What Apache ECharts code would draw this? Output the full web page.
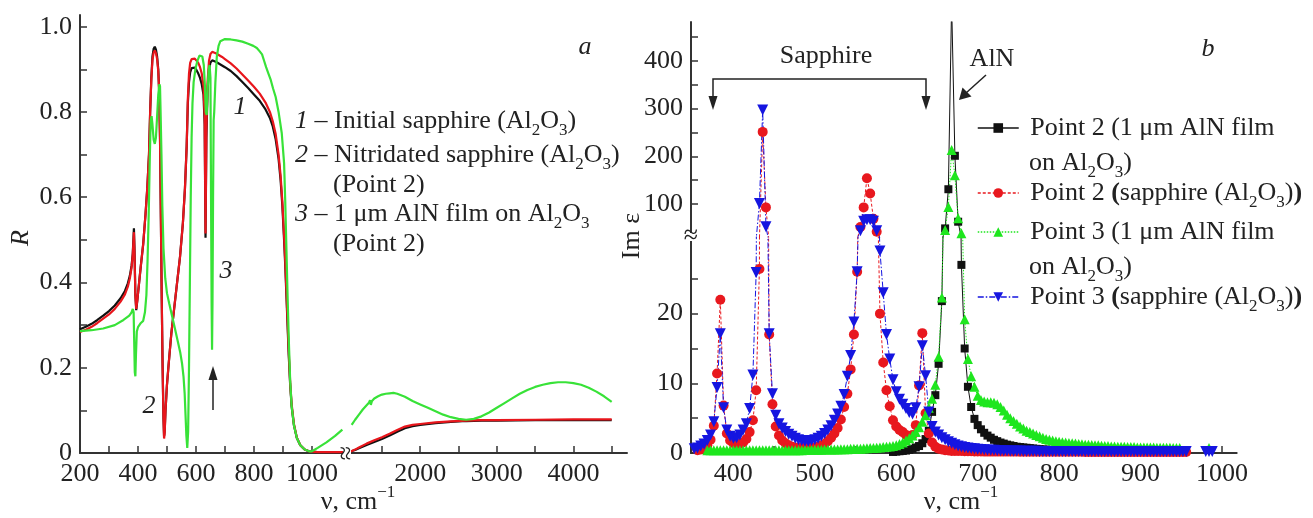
<!DOCTYPE html>
<html>
<head>
<meta charset="utf-8">
<script src="https://cdn.jsdelivr.net/npm/echarts@6.0.0/dist/echarts.min.js"></script>
<style>
  html, body { margin: 0; padding: 0; background: #fff; }
  #chart { width: 1313px; height: 518px; }
</style>
</head>
<body>
<div id="chart"></div>
<script>
// ---------- panel a: reflectance R(nu) ----------
// wavenumber samples, 200..1120 cm-1 part of the axis
const nuSapLo = [
  200, 220, 240, 260, 280, 300, 320, 340, 355, 365,
  372, 378, 382, 386, 388, 391, 394, 398, 404, 410,
  418, 426, 432, 438, 442, 446, 450, 454, 458, 462,
  466, 470, 473, 476, 479, 482, 485, 488, 490, 492,
  495, 500, 506, 515, 525, 535, 545, 555, 562, 568,
  572, 576, 580, 585, 590, 596, 602, 608, 614, 620,
  626, 630, 633, 636, 640, 645, 650, 656, 662, 670,
  680, 690, 700, 720, 740, 760, 780, 800, 820, 840,
  855, 865, 875, 885, 892, 898, 904, 908, 912, 916,
  920, 925, 930, 938, 948, 960, 975, 990, 1000, 1020,
  1050, 1080, 1120
];
// 1 - initial sapphire
const rInitialLo = [
  0.290, 0.296, 0.303, 0.312, 0.322, 0.333, 0.346, 0.363, 0.380, 0.398,
  0.416, 0.440, 0.468, 0.527, 0.480, 0.370, 0.335, 0.360, 0.400, 0.440,
  0.490, 0.560, 0.620, 0.700, 0.800, 0.880, 0.930, 0.948, 0.953, 0.946,
  0.930, 0.900, 0.850, 0.740, 0.550, 0.360, 0.200, 0.080, 0.040, 0.050,
  0.100, 0.160, 0.210, 0.280, 0.340, 0.400, 0.460, 0.540, 0.620, 0.720,
  0.820, 0.870, 0.893, 0.903, 0.906, 0.904, 0.898, 0.890, 0.880, 0.865,
  0.840, 0.770, 0.505, 0.740, 0.850, 0.900, 0.916, 0.921, 0.920, 0.917,
  0.913, 0.909, 0.905, 0.896, 0.884, 0.870, 0.856, 0.841, 0.826, 0.806,
  0.786, 0.766, 0.736, 0.690, 0.640, 0.580, 0.500, 0.440, 0.370, 0.300,
  0.230, 0.160, 0.110, 0.065, 0.035, 0.018, 0.008, 0.004, 0.003, 0.002,
  0.002, 0.002, 0.002
];
// 2 - nitridated sapphire
const rNitridLo = [
  0.284, 0.289, 0.296, 0.305, 0.315, 0.325, 0.338, 0.355, 0.372, 0.390,
  0.410, 0.435, 0.465, 0.518, 0.470, 0.370, 0.338, 0.360, 0.400, 0.440,
  0.490, 0.560, 0.620, 0.700, 0.800, 0.875, 0.922, 0.939, 0.944, 0.938,
  0.924, 0.895, 0.850, 0.740, 0.550, 0.360, 0.200, 0.080, 0.034, 0.045,
  0.100, 0.160, 0.210, 0.280, 0.340, 0.400, 0.460, 0.540, 0.620, 0.720,
  0.830, 0.890, 0.915, 0.924, 0.926, 0.925, 0.921, 0.915, 0.905, 0.890,
  0.860, 0.790, 0.515, 0.760, 0.870, 0.920, 0.936, 0.941, 0.940, 0.937,
  0.933, 0.929, 0.924, 0.914, 0.902, 0.888, 0.874, 0.859, 0.843, 0.822,
  0.800, 0.778, 0.748, 0.700, 0.650, 0.590, 0.510, 0.450, 0.380, 0.310,
  0.240, 0.165, 0.115, 0.068, 0.036, 0.018, 0.008, 0.004, 0.003, 0.002,
  0.002, 0.002, 0.002
];
const nuFilmLo = [
  200, 240, 280, 320, 350, 370, 378, 382, 385, 387,
  389, 391, 393, 396, 400, 410, 418, 424, 429, 433,
  437, 441, 444, 447, 450, 454, 458, 462, 466, 470,
  474, 476, 478, 481, 484, 488, 494, 500, 508, 518,
  528, 538, 546, 552, 557, 561, 564, 567, 570, 573,
  576, 579, 582, 585, 588, 592, 598, 605, 612, 617,
  622, 627, 631, 634, 637, 640, 644, 647, 650, 652,
  654, 655.5, 657, 659, 661, 663, 665, 667, 672, 678,
  684, 690, 700, 720, 740, 760, 780, 798, 810, 820,
  828, 835, 842, 850, 858, 866, 875, 885, 896, 904,
  908, 912, 916, 920, 925, 930, 938, 948, 960, 975,
  990, 1000, 1020, 1050, 1080, 1105
];
// 3 - 1 um AlN film on Al2O3
const rFilmLo = [
  0.286, 0.288, 0.292, 0.300, 0.312, 0.322, 0.330, 0.338, 0.330, 0.260,
  0.190, 0.180, 0.230, 0.285, 0.295, 0.305, 0.310, 0.330, 0.370, 0.450,
  0.560, 0.700, 0.780, 0.790, 0.770, 0.735, 0.725, 0.740, 0.790, 0.840,
  0.865, 0.860, 0.800, 0.700, 0.580, 0.480, 0.410, 0.375, 0.350, 0.320,
  0.290, 0.260, 0.235, 0.210, 0.180, 0.140, 0.090, 0.040, 0.012, 0.050,
  0.200, 0.400, 0.600, 0.740, 0.820, 0.870, 0.900, 0.920, 0.932, 0.935,
  0.930, 0.910, 0.860, 0.800, 0.793, 0.850, 0.900, 0.910, 0.880, 0.600,
  0.350, 0.242, 0.350, 0.600, 0.780, 0.800, 0.800, 0.870, 0.930, 0.955,
  0.966, 0.970, 0.971, 0.970, 0.968, 0.965, 0.960, 0.955, 0.950, 0.942,
  0.935, 0.920, 0.905, 0.890, 0.875, 0.855, 0.835, 0.800, 0.750, 0.680,
  0.590, 0.480, 0.370, 0.270, 0.170, 0.110, 0.065, 0.035, 0.018, 0.008,
  0.004, 0.004, 0.012, 0.025, 0.040, 0.055
];
// 1040..4700 cm-1 part of the axis
const nuSapHi = [1060, 1100, 1150, 1200, 1300, 1400, 1500, 1600, 1700, 1800,
  1900, 2000, 2200, 2400, 2600, 2800, 3000, 3500, 4000, 4500];
const rInitialHi = [0.002, 0.004, 0.007, 0.011, 0.019, 0.026, 0.033, 0.041, 0.050, 0.058,
  0.063, 0.066, 0.070, 0.073, 0.075, 0.076, 0.076, 0.077, 0.077, 0.077];
const rNitridHi = [0.002, 0.004, 0.008, 0.013, 0.022, 0.030, 0.037, 0.045, 0.054, 0.062,
  0.066, 0.068, 0.072, 0.074, 0.076, 0.077, 0.077, 0.078, 0.079, 0.079];
const nuFilmHi = [
  1105, 1150, 1200, 1250, 1300, 1330, 1345, 1355, 1370, 1400,
  1450, 1500, 1550, 1600, 1650, 1700, 1800, 1900, 2000, 2100,
  2200, 2300, 2400, 2500, 2600, 2700, 2800, 2900, 3000, 3100,
  3200, 3300, 3400, 3500, 3600, 3700, 3800, 3900, 4000, 4100,
  4200, 4300, 4400, 4500
];
const rFilmHi = [
  0.066, 0.078, 0.090, 0.102, 0.112, 0.118, 0.124, 0.113, 0.122, 0.128,
  0.133, 0.137, 0.139, 0.140, 0.141, 0.139, 0.132, 0.122, 0.114, 0.106,
  0.098, 0.090, 0.084, 0.080, 0.078, 0.080, 0.086, 0.095, 0.106, 0.117,
  0.128, 0.139, 0.148, 0.155, 0.160, 0.164, 0.166, 0.166, 0.164, 0.160,
  0.153, 0.144, 0.133, 0.120
];

// ---------- panel b: Im eps(nu) ----------
const nuB = [
  352, 356, 360, 364, 368, 372, 376, 380, 384, 388,
  392, 396, 400, 404, 408, 412, 416, 420, 424, 428,
  432, 436, 440, 444, 448, 452, 456, 460, 464, 468,
  472, 476, 480, 484, 488, 492, 496, 500, 504, 508,
  512, 516, 520, 524, 528, 532, 536, 540, 544, 548,
  552, 556, 560, 564, 568, 572, 576, 580, 584, 588,
  592, 596, 600, 604, 608, 612, 616, 620, 624, 628,
  632, 636, 640, 644, 648, 652, 656, 660, 664, 668,
  672, 676, 680, 684, 688, 692, 696, 700, 704, 708,
  712, 716, 720, 724, 728, 732, 736, 740, 744, 748,
  752, 756, 760, 764, 768, 772, 776, 780, 784, 788,
  792, 796, 800, 804, 808, 812, 816, 820, 824, 828,
  832, 836, 840, 844, 848, 852, 856, 860, 864, 868,
  872, 876, 880, 884, 888, 892, 896, 900, 904, 908,
  912, 916, 920, 924, 928, 932, 936, 940, 944, 948,
  952, 956, 960, 964, 968, 972, 976, 980, 984, 988,
  992, 996
];
// Point 2, AlN film (starts at 596)
const p2Film = [
  0.15, 0.2, 0.25, 0.3, 0.35, 0.45, 0.6, 0.8, 1.0,
  1.4, 2.0, 3.2, 5.9, 8.3, 12.8, 21.8, 49, 131, 520,
  201, 63, 27, 15, 9.5, 6.6, 4.9, 4.0, 3.4, 2.9,
  2.5, 2.2, 1.9, 1.7, 1.5, 1.35, 1.2, 1.1, 1.0, 0.9,
  0.85, 0.8, 0.75, 0.7, 0.65, 0.6, 0.55, 0.5, 0.5, 0.45,
  0.45, 0.4, 0.4, 0.35, 0.35, 0.35, 0.3, 0.3, 0.3, 0.3,
  0.3, 0.3, 0.3, 0.3, 0.3
];
// Point 2, sapphire (starts at 356)
const p2Sap = [
  0.4, 0.5, 0.7, 1.1, 1.9, 3.9, 11.4, 22.0, 6.8,
  2.8, 1.8, 1.4, 1.3, 1.3, 1.5, 2.0, 3.0, 4.7, 9.0,
  26.4, 251, 93, 17.0, 7.0, 3.8, 2.5, 1.8, 1.4, 1.1,
  0.9, 0.8, 0.7, 0.7, 0.7, 0.7, 0.8, 0.8, 0.9, 1.1,
  1.3, 1.7, 2.2, 2.8, 3.6, 4.8, 6.6, 8.5, 12, 17,
  26, 52, 93, 154, 122, 69, 42, 20, 13, 9,
  6.7, 4.7, 3.8, 3.3, 3.0, 2.6, 2.4, 2.6, 4.0, 9.7,
  17.2, 5.7, 2.8, 1.5, 0.9, 0.6, 0.5, 0.4, 0.35, 0.3,
  0.3, 0.3, 0.28, 0.26, 0.25, 0.24, 0.23, 0.22, 0.21, 0.2,
  0.2, 0.2, 0.2, 0.2, 0.2, 0.2, 0.2, 0.2, 0.2, 0.2,
  0.18, 0.18, 0.18, 0.18, 0.18, 0.18, 0.18, 0.18, 0.18, 0.18,
  0.17, 0.17, 0.17, 0.17, 0.17, 0.17, 0.17, 0.17, 0.17, 0.17,
  0.16, 0.16, 0.16, 0.16, 0.16, 0.16, 0.16, 0.16, 0.16, 0.16,
  0.15, 0.15, 0.15, 0.15, 0.15, 0.15, 0.15, 0.15, 0.15, 0.15,
  0.15, 0.15, 0.15, 0.15, 0.15, 0.15, 0.15, 0.15, 0.15, 0.15,
  0.15, 0.15
];
// Point 3, AlN film (starts at 368)
const p3Film = [
  0.4, 0.4, 0.4, 0.4, 0.4, 0.4,
  0.4, 0.4, 0.4, 0.4, 0.4, 0.4, 0.4, 0.4, 0.4, 0.4,
  0.4, 0.4, 0.4, 0.4, 0.4, 0.4, 0.4, 0.4, 0.4, 0.4,
  0.4, 0.4, 0.4, 0.4, 0.45, 0.45, 0.45, 0.45, 0.45, 0.45,
  0.5, 0.5, 0.5, 0.5, 0.5, 0.55, 0.55, 0.55, 0.6, 0.6,
  0.6, 0.62, 0.65, 0.68, 0.7, 0.73, 0.76, 0.8, 0.85, 0.9,
  0.95, 1.0, 1.1, 1.3, 1.5, 1.8, 2.1, 2.5, 3.0, 3.7,
  4.5, 5.4, 6.5, 7.8, 9.8, 13.8, 22.3, 45.6, 94, 213,
  160, 70, 38.6, 19.2, 13.5, 11.0, 9.5, 8.2, 7.6, 7.4,
  7.3, 7.3, 7.2, 7.0, 6.6, 6.1, 5.5, 5.0, 4.6, 4.2,
  3.8, 3.5, 3.2, 3.0, 2.8, 2.6, 2.4, 2.2, 2.0, 1.9,
  1.8, 1.7, 1.6, 1.55, 1.5, 1.45, 1.4, 1.35, 1.3, 1.25,
  1.2, 1.2, 1.15, 1.1, 1.1, 1.05, 1.0, 1.0, 0.95, 0.95,
  0.9, 0.9, 0.9, 0.85, 0.85, 0.85, 0.8, 0.8, 0.8, 0.8,
  0.8, 0.8, 0.75, 0.75, 0.75, 0.75, 0.75, 0.7, 0.7, 0.7,
  null, null, null, null, null, null, null, null, 0.7
];
// Point 3, sapphire (starts at 352)
const p3Sap = [
  0.6, 0.7, 1.0, 1.3, 1.8, 2.6, 4.5, 9.4, 17.1, 6.5,
  3.3, 2.4, 2.1, 2.2, 2.6, 3.3, 4.2, 6.4, 11.2, 25.9,
  101, 297, 52.5, 17.1, 8.5, 5.4, 4.2, 3.6, 3.1, 2.7,
  2.4, 2.1, 1.9, 1.8, 1.7, 1.7, 1.8, 1.9, 2.1, 2.4,
  2.8, 3.3, 3.9, 4.7, 5.6, 6.7, 8.4, 11.0, 14.0, 18.8,
  26, 44, 64, 67, 67, 64, 44, 29, 23, 17,
  13.5, 10.5, 8.8, 7.7, 7.0, 6.4, 5.8, 5.6, 6.5, 9.5,
  15.4, 11.1, 5.9, 3.8, 3.0, 2.6, 2.2, 1.9, 1.6, 1.4,
  1.2, 1.0, 0.9, 0.8, 0.7, 0.65, 0.6, 0.55, 0.5, 0.45,
  0.42, 0.4, 0.38, 0.36, 0.34, 0.32, 0.31, 0.3, 0.29, 0.28,
  0.27, 0.26, 0.25, 0.25, 0.24, 0.24, 0.23, 0.23, 0.22, 0.22,
  0.22, 0.21, 0.21, 0.21, 0.2, 0.2, 0.2, 0.2, 0.2, 0.2,
  0.2, 0.2, 0.2, 0.2, 0.2, 0.2, 0.2, 0.2, 0.2, 0.2,
  0.2, 0.2, 0.2, 0.2, 0.2, 0.2, 0.2, 0.2, 0.2, 0.2,
  0.2, 0.2, 0.2, 0.2, 0.2, 0.2, 0.2, 0.2, 0.2, 0.2,
  0.2, 0.2, null, null, null, null, null, 0.2, 0.2, 0.2
];

// tick / label positions
const ticksALo = [200, 300, 400, 500, 600, 700, 800, 900, 1000];
const labelsALo = [200, 400, 600, 800, 1000];
const ticksAHi = [1500, 2000, 2500, 3000, 3500, 4000, 4500];
const labelsAHi = [2000, 3000, 4000];
const ticksRA = [0, 0.1, 0.2, 0.3, 0.4, 0.5, 0.6, 0.7, 0.8, 0.9, 1.0];
const labelsRA = [0, 0.2, 0.4, 0.6, 0.8, 1.0];
const ticksNuB = [400, 450, 500, 550, 600, 650, 700, 750, 800, 850, 900, 950, 1000];
const labelsNuB = [400, 500, 600, 700, 800, 900, 1000];
const ticksImLo = [0, 5, 10, 15, 20, 25];
const labelsImLo = [0, 10, 20];
const ticksImHi = [100, 150, 200, 250, 300, 350, 400, 450];
const labelsImHi = [100, 200, 300, 400];

const FONT = 'Liberation Serif';
const INK = '#222';
const AXIS = '#333';

function check(a, b, what) {
  if (a.length !== b.length) throw new Error(what + ': ' + a.length + ' vs ' + b.length);
}
check(nuSapLo, rInitialLo, 'initial'); check(nuSapLo, rNitridLo, 'nitrid');
check(nuFilmLo, rFilmLo, 'film'); check(nuSapHi, rInitialHi, 'initialHi');
check(nuSapHi, rNitridHi, 'nitridHi'); check(nuFilmHi, rFilmHi, 'filmHi');

const pair = (xs, ys) => xs.map((x, i) => [x, ys[i]]);
// values listed from wavenumber nu0 on, on the nuB grid
function fromNu(nu0, ys) {
  const k = nuB.indexOf(nu0);
  if (k < 0 || k + ys.length > nuB.length) throw new Error('bad run at ' + nu0 + ' len ' + ys.length);
  return ys.map((y, i) => [nuB[k + i], y]);
}

const rich = {
  n: { fontFamily: FONT, fontSize: 26, lineHeight: 36, color: INK },
  i: { fontFamily: FONT, fontSize: 26, lineHeight: 36, color: INK, fontStyle: 'italic' },
  b: { fontFamily: FONT, fontSize: 26, lineHeight: 36, color: INK, fontWeight: 'bold' },
  s: { fontFamily: FONT, fontSize: 17, lineHeight: 17, color: INK, verticalAlign: 'bottom' },
  u: { fontFamily: FONT, fontSize: 17, lineHeight: 17, color: INK, verticalAlign: 'top' }
};

function txt(x, y, text, opts) {
  opts = opts || {};
  return {
    type: 'text', x, y, z: 20, rotation: opts.rotation || 0,
    style: { text, rich, align: opts.align || 'left', verticalAlign: 'middle', fill: INK, font: '26px ' + FONT }
  };
}

function xAxis(grid, min, max, ticks, labels, show) {
  return {
    type: 'value', gridIndex: grid, min, max, show: show !== false,
    axisLine: { show: true, onZero: false, lineStyle: { color: AXIS, width: 2 } },
    axisTick: { show: true, inside: true, length: 7, customValues: ticks, lineStyle: { color: AXIS, width: 1.5 } },
    axisLabel: {
      show: true, customValues: labels, color: INK, fontFamily: FONT, fontSize: 26, margin: 8,
      formatter: v => String(v)
    },
    splitLine: { show: false }
  };
}
function yAxis(grid, min, max, ticks, labels, show, fmt) {
  const ax = xAxis(grid, min, max, ticks, labels, show);
  if (fmt) ax.axisLabel.formatter = fmt;
  return ax;
}

const LINE_A = 2.2;
const colA = { initial: '#111111', nitrid: '#e8161c', film: '#38e238' };
function curve(name, ax, xs, ys, color) {
  return {
    name, type: 'line', xAxisIndex: ax, yAxisIndex: ax, data: pair(xs, ys),
    showSymbol: false, silent: true, lineStyle: { color, width: LINE_A }, itemStyle: { color }
  };
}

const bStyle = {
  p2film: { color: '#111111', symbol: 'rect', size: 8, rotate: 0, dash: 'solid' },
  p2sap: { color: '#e8181e', symbol: 'circle', size: 10, rotate: 0, dash: [3, 2] },
  p3film: { color: '#1ee61e', symbol: 'triangle', size: 10, rotate: 0, dash: [1.5, 1.5] },
  p3sap: { color: '#1515e0', symbol: 'triangle', size: 11, rotate: 180, dash: [6, 2, 1.5, 2] }
};
function points(name, ax, data) {
  const st = bStyle[name];
  return {
    name, type: 'line', xAxisIndex: ax, yAxisIndex: ax, data,
    symbol: st.symbol, symbolSize: st.size, symbolRotate: st.rotate, showAllSymbol: true,
    silent: true, clip: true,
    lineStyle: { color: st.color, width: 1, type: st.dash },
    itemStyle: { color: st.color, borderWidth: 0 }
  };
}

const dataB = {
  p2film: fromNu(596, p2Film),
  p2sap: fromNu(356, p2Sap),
  p3film: fromNu(368, p3Film),
  p3sap: fromNu(352, p3Sap)
};

const seriesB = [];
[2, 3].forEach(ax => {
  ['p2film', 'p2sap', 'p3film', 'p3sap'].forEach(n => seriesB.push(points(n, ax, dataB[n])));
});

const legendText = {
  p2film: '{n| Point 2 (1 μm AlN film}',
  p2sap: '{n| Point 2 }{b|(}{n|sapphire (Al}{s|2}{n|O}{s|3}{n|)}{b|)}',
  p3film: '{n| Point 3 (1 μm AlN film}',
  p3sap: '{n| Point 3 }{b|(}{n|sapphire (Al}{s|2}{n|O}{s|3}{n|)}{b|)}'
};
function legendAt(name, top) {
  return {
    data: [name], left: 977, top, padding: 0, orient: 'vertical',
    itemWidth: 41, itemHeight: 12, selectedMode: false,
    lineStyle: { width: 1.5 },
    formatter: () => legendText[name],
    textStyle: { rich }
  };
}

const graphics = [
  // panel a annotations
  txt(585, 47, '{i|a}', { align: 'center' }),
  txt(240, 107, '{i|1}', { align: 'center' }),
  txt(149, 406, '{i|2}', { align: 'center' }),
  txt(226, 271, '{i|3}', { align: 'center' }),
  { type: 'line', z: 20, shape: { x1: 213, y1: 410, x2: 213, y2: 376 }, style: { stroke: '#222', lineWidth: 1.5 } },
  { type: 'polygon', z: 20, shape: { points: [[213, 366], [208.5, 380], [217.5, 380]] }, style: { fill: '#222' } },
  txt(295, 121, '{i|1}{n| – Initial sapphire (Al}{s|2}{n|O}{s|3}{n|)}'),
  txt(295, 155, '{i|2}{n| – Nitridated sapphire (Al}{s|2}{n|O}{s|3}{n|)}'),
  txt(333, 185, '{n|(Point 2)}'),
  txt(295, 214, '{i|3}{n| – 1 μm AlN film on Al}{s|2}{n|O}{s|3}'),
  txt(333, 244, '{n|(Point 2)}'),
  txt(21, 238, '{i|R}', { align: 'center', rotation: Math.PI / 2 }),
  txt(358, 502, '{n|ν, cm}{u|−1}', { align: 'center' }),
  { type: 'rect', z: 19, shape: { x: 343, y: 446, width: 8, height: 14 }, style: { fill: '#fff' } },
  txt(347, 453, '{n|≈}', { align: 'center', rotation: Math.PI / 2 }),
  // panel b annotations
  txt(826, 56, '{n|Sapphire}', { align: 'center' }),
  { type: 'polyline', z: 20, shape: { points: [[713, 100], [713, 79], [926, 79], [926, 100]] }, style: { stroke: '#222', lineWidth: 1.5, fill: null } },
  { type: 'polygon', z: 20, shape: { points: [[713, 110], [708.5, 96], [717.5, 96]] }, style: { fill: '#222' } },
  { type: 'polygon', z: 20, shape: { points: [[926, 110], [921.5, 96], [930.5, 96]] }, style: { fill: '#222' } },
  txt(992, 59, '{n|AlN}', { align: 'center' }),
  { type: 'line', z: 20, shape: { x1: 986, y1: 75, x2: 966, y2: 93 }, style: { stroke: '#222', lineWidth: 1.5 } },
  { type: 'polygon', z: 20, shape: { points: [[959, 100], [962.5, 87.5], [971.5, 96.5]] }, style: { fill: '#222' } },
  txt(1208, 49, '{i|b}', { align: 'center' }),
  txt(632, 236, '{n|Im ε}', { align: 'center', rotation: Math.PI / 2 }),
  txt(961, 502, '{n|ν, cm}{u|−1}', { align: 'center' }),
  txt(1029, 163, '{n|on Al}{s|2}{n|O}{s|3}{n|)}'),
  txt(1029, 267, '{n|on Al}{s|2}{n|O}{s|3}{n|)}'),
  { type: 'rect', z: 19, shape: { x: 686, y: 233, width: 10, height: 8 }, style: { fill: '#fff' } },
  txt(691, 236, '{n|≈}', { align: 'center' })
];

const chart = echarts.init(document.getElementById('chart'), null, { renderer: 'canvas' });
chart.setOption({
  animation: false,
  backgroundColor: '#fff',
  textStyle: { fontFamily: FONT },
  grid: [
    { left: 80, top: 15, width: 266.7, height: 438 },
    { left: 346.7, top: 15, width: 280.3, height: 438 },
    { left: 691, top: 237, width: 545.7, height: 216 },
    { left: 691, top: 22, width: 545.7, height: 215 }
  ],
  xAxis: [
    xAxis(0, 200, 1120, ticksALo, labelsALo),
    xAxis(1, 1040, 4700, ticksAHi, labelsAHi),
    xAxis(2, 348, 1018, ticksNuB, labelsNuB),
    xAxis(3, 348, 1018, ticksNuB, labelsNuB, false)
  ],
  yAxis: [
    yAxis(0, 0, 1.0274, ticksRA, labelsRA, true, v => (v === 0 ? '0' : v.toFixed(1))),
    yAxis(1, 0, 1.0274, ticksRA, labelsRA, false),
    yAxis(2, 0, 31, ticksImLo, labelsImLo),
    yAxis(3, 31, 481, ticksImHi, labelsImHi)
  ],
  legend: [
    legendAt('p2film', 115),
    legendAt('p2sap', 180),
    legendAt('p3film', 219),
    legendAt('p3sap', 284)
  ],
  series: [
    curve('initial', 0, nuSapLo, rInitialLo, colA.initial),
    curve('nitrid', 0, nuSapLo, rNitridLo, colA.nitrid),
    curve('film', 0, nuFilmLo, rFilmLo, colA.film),
    curve('initial', 1, nuSapHi, rInitialHi, colA.initial),
    curve('nitrid', 1, nuSapHi, rNitridHi, colA.nitrid),
    curve('film', 1, nuFilmHi, rFilmHi, colA.film)
  ].concat(seriesB),
  graphic: graphics
});
</script>
</body>
</html>
